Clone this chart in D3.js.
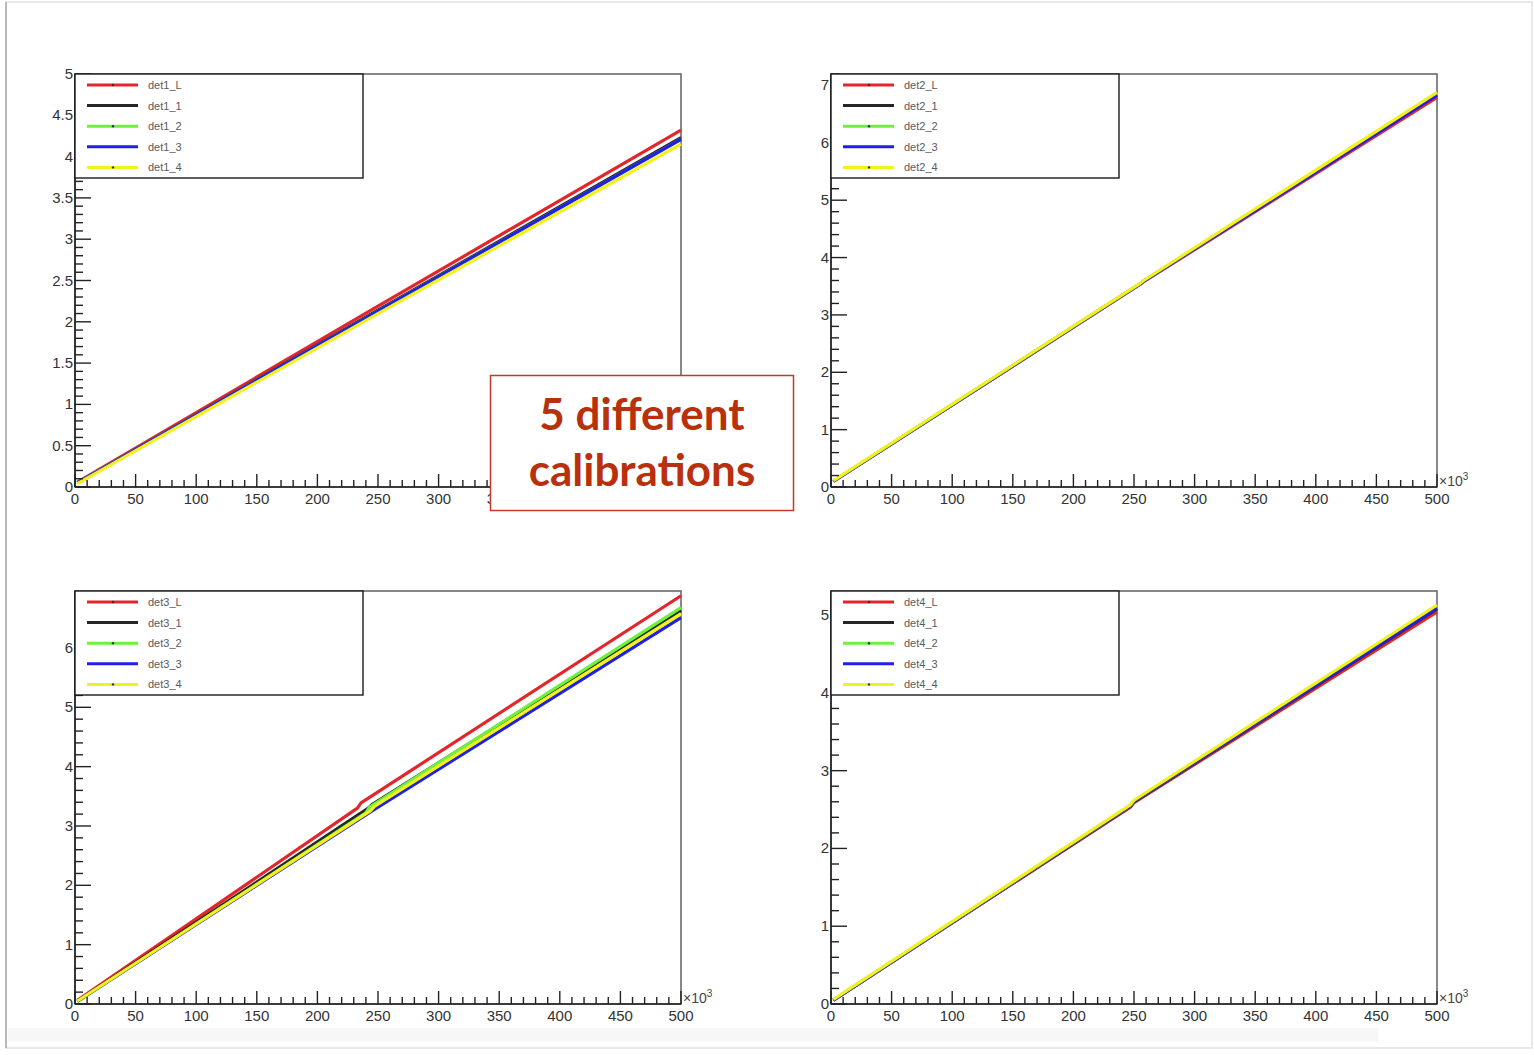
<!DOCTYPE html>
<html><head><meta charset="utf-8">
<script src="https://cdn.jsdelivr.net/npm/d3@7"></script>
<style>body{margin:0;background:#fff}svg{display:block}</style>
</head><body><svg id="c" width="1534" height="1055"></svg>
<script>
// ---------- DATA ----------
const detectors = ["det1", "det2", "det3", "det4"];
const channels = ["L", "1", "2", "3", "4"];
const xTickValues = [0, 50, 100, 150, 200, 250, 300, 350, 400, 450, 500];
const xTickValuesPanel1 = [0, 50, 100, 150, 200, 250, 300, 350]; // the rest is hidden under the note box
const yMax = [5, 7.2, 6.96, 5.31];
const yMajorStep = [0.5, 1, 1, 1];
const yMinorStep = [0.1, 0.2, 0.2, 0.2];
const annotationLines = ["5 different", "calibrations"];

// [ADC (x10^3), energy]
const det1_L = [[2, 0.06], [250, 2.19], [500, 4.32]];
const det1_1 = [[2, 0.05], [250, 2.14], [500, 4.23]];
const det1_2 = [[2, 0.05], [250, 2.13], [500, 4.21]];
const det1_3 = [[2, 0.05], [250, 2.13], [500, 4.21]];
const det1_4 = [[2, 0.04], [250, 2.10], [500, 4.15]];

const det2_L = [[2, 0.10], [255, 3.53], [258, 3.58], [500, 6.79]];
const det2_1 = [[2, 0.10], [255, 3.54], [258, 3.59], [500, 6.84]];
const det2_2 = [[2, 0.10], [255, 3.54], [258, 3.59], [500, 6.85]];
const det2_3 = [[2, 0.10], [255, 3.54], [258, 3.59], [500, 6.83]];
const det2_4 = [[2, 0.11], [255, 3.55], [258, 3.60], [500, 6.88]];

const det3_L = [[2, 0.06], [233, 3.30], [236, 3.39], [500, 6.88]];
const det3_1 = [[2, 0.05], [242, 3.30], [245, 3.36], [500, 6.63]];
const det3_2 = [[2, 0.04], [240, 3.22], [243, 3.32], [500, 6.68]];
const det3_3 = [[2, 0.05], [248, 3.29], [251, 3.33], [500, 6.51]];
const det3_4 = [[2, 0.05], [244, 3.26], [247, 3.33], [500, 6.58]];

const det4_L = [[2, 0.05], [247, 2.53], [250, 2.59], [500, 5.04]];
const det4_1 = [[2, 0.05], [247, 2.54], [250, 2.60], [500, 5.08]];
const det4_2 = [[2, 0.05], [247, 2.55], [250, 2.61], [500, 5.10]];
const det4_3 = [[2, 0.05], [247, 2.55], [250, 2.61], [500, 5.09]];
const det4_4 = [[2, 0.06], [247, 2.56], [250, 2.62], [500, 5.13]];

const seriesByDet = [
  [det1_L, det1_1, det1_2, det1_3, det1_4],
  [det2_L, det2_1, det2_2, det2_3, det2_4],
  [det3_L, det3_1, det3_2, det3_3, det3_4],
  [det4_L, det4_1, det4_2, det4_3, det4_4]
];

// ---------- STYLE / LAYOUT ----------
const colors = ["#e3262b", "#262626", "#6ff03a", "#2020ea", "#f2f21a"];
const hasDot = [true, false, true, false, true];
const panels = [
  {x0: 75, x1: 681, y0: 74, y1: 487},
  {x0: 831, x1: 1437, y0: 74, y1: 487},
  {x0: 75, x1: 681, y0: 591, y1: 1004},
  {x0: 831, x1: 1437, y0: 591, y1: 1004}
];
const FONT = "'Liberation Sans', Arial, sans-serif";
const svg = d3.select("#c");

// page frame / shadow
svg.append("rect").attr("x", 0).attr("y", 0).attr("width", 1534).attr("height", 1055).attr("fill", "#fff");
svg.append("rect").attr("x", 6).attr("y", 2).attr("width", 1526).attr("height", 1046)
  .attr("fill", "none").attr("stroke", "#e2e2e2").attr("stroke-width", 1.5);
svg.append("line").attr("x1", 6).attr("x2", 6).attr("y1", 2).attr("y2", 1048)
  .attr("stroke", "#b8b8b8").attr("stroke-width", 2);
svg.append("rect").attr("x", 8).attr("y", 1028).attr("width", 1370).attr("height", 14).attr("fill", "#f7f7f7");

panels.forEach((p, i) => {
  const g = svg.append("g");
  const x = d3.scaleLinear().domain([0, 500]).range([p.x0, p.x1]);
  const y = d3.scaleLinear().domain([0, yMax[i]]).range([p.y1, p.y0]);

  // frame (top/right)
  g.append("rect").attr("x", p.x0).attr("y", p.y0).attr("width", p.x1 - p.x0).attr("height", p.y1 - p.y0)
    .attr("fill", "none").attr("stroke", "#6a6a6a").attr("stroke-width", 1.6);

  // data lines
  const line = d3.line().x(d => x(d[0])).y(d => y(d[1]));
  seriesByDet[i].forEach((s, k) => {
    g.append("path").datum(s).attr("d", line).attr("fill", "none")
      .attr("stroke", colors[k]).attr("stroke-width", 3.2).attr("stroke-linejoin", "round");
  });

  // x axis ticks
  const xMinor = d3.range(0, 501, 10);
  const xAx = g.append("g");
  xAx.selectAll("line.mn").data(xMinor).join("line")
    .attr("x1", d => x(d)).attr("x2", d => x(d))
    .attr("y1", p.y1).attr("y2", d => p.y1 - (d % 50 === 0 ? 13 : 7))
    .attr("stroke", "#222").attr("stroke-width", 1.4);
  const labels = i === 0 ? xTickValuesPanel1 : xTickValues;
  xAx.selectAll("text").data(labels).join("text")
    .attr("x", d => x(d)).attr("y", p.y1 + 17).attr("text-anchor", "middle")
    .attr("font-family", FONT).attr("font-size", 15).attr("fill", "#333").text(d => d);
  g.append("line").attr("x1", p.x0).attr("x2", p.x1).attr("y1", p.y1).attr("y2", p.y1)
    .attr("stroke", "#222").attr("stroke-width", 1.6);
  // x10^3 (hidden by the note in panel 1)
  if (i !== 0) {
    const ex = g.append("text").attr("x", p.x1 + 2).attr("y", p.y1 - 1)
      .attr("font-family", FONT).attr("font-size", 14).attr("fill", "#444");
    ex.append("tspan").text("\u00d710");
    ex.append("tspan").attr("dy", -6).attr("font-size", 10).text("3");
  }

  // y axis ticks
  const nMinor = Math.floor(yMax[i] / yMinorStep[i] + 1e-6);
  const yMinor = d3.range(0, nMinor + 1).map(k => +(k * yMinorStep[i]).toFixed(3));
  const ratio = Math.round(yMajorStep[i] / yMinorStep[i]);
  g.selectAll("line.ym").data(yMinor).join("line")
    .attr("x1", p.x0).attr("x2", (d, k) => p.x0 + (k % ratio === 0 ? 16 : 8))
    .attr("y1", d => y(d)).attr("y2", d => y(d))
    .attr("stroke", "#222").attr("stroke-width", 1.4);
  const nMaj = Math.floor(yMax[i] / yMajorStep[i] + 1e-6);
  const yMajor = d3.range(0, nMaj + 1).map(k => +(k * yMajorStep[i]).toFixed(2));
  g.selectAll("text.yl").data(yMajor).join("text")
    .attr("x", p.x0 - 2).attr("y", d => y(d) + 5).attr("text-anchor", "end")
    .attr("font-family", FONT).attr("font-size", 15).attr("fill", "#333").text(d => d);
  g.append("line").attr("x1", p.x0).attr("x2", p.x0).attr("y1", p.y0).attr("y2", p.y1)
    .attr("stroke", "#222").attr("stroke-width", 1.6);

  // legend
  const lg = g.append("g");
  lg.append("rect").attr("x", p.x0).attr("y", p.y0).attr("width", 288).attr("height", 104)
    .attr("fill", "#fff").attr("stroke", "#1a1a1a").attr("stroke-width", 1.4);
  channels.forEach((c, k) => {
    const yy = p.y0 + 11 + k * 20.6;
    lg.append("line").attr("x1", p.x0 + 12).attr("x2", p.x0 + 63).attr("y1", yy).attr("y2", yy)
      .attr("stroke", colors[k]).attr("stroke-width", 3);
    if (hasDot[k]) lg.append("circle").attr("cx", p.x0 + 38).attr("cy", yy).attr("r", 1.2).attr("fill", "#333");
    lg.append("text").attr("x", p.x0 + 73).attr("y", yy + 4)
      .attr("font-family", FONT).attr("font-size", 11).attr("fill", "#5a5a5a")
      .text(detectors[i] + "_" + c);
  });
});

// annotation box
const ann = svg.append("g");
ann.append("rect").attr("x", 490.5).attr("y", 375.5).attr("width", 303).attr("height", 135)
  .attr("fill", "#fff").attr("stroke", "#c0392b").attr("stroke-width", 1.5);
annotationLines.forEach((t, k) => {
  ann.append("text").attr("x", 642).attr("y", 430 + k * 56).attr("text-anchor", "middle")
    .attr("font-family", "Lato, 'Open Sans', sans-serif").attr("font-weight", 700)
    .attr("font-size", 44).attr("fill", "#b8300c").text(t);
});
</script></body></html>
